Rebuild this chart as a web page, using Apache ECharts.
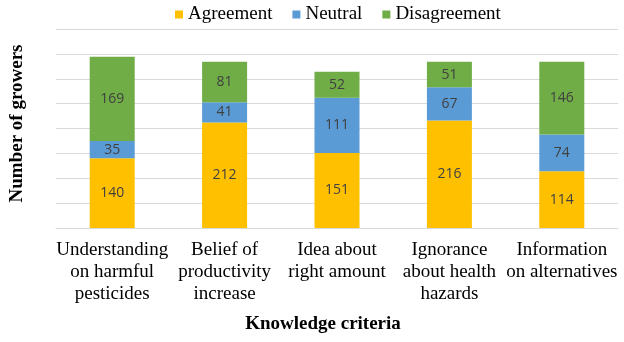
<!DOCTYPE html>
<html>
<head>
<meta charset="utf-8">
<script src="https://cdn.jsdelivr.net/npm/echarts@6/dist/echarts.min.js"></script>
<style>
  html, body { margin: 0; padding: 0; background: #fff; }
  #chart { width: 624px; height: 342px; }
</style>
</head>
<body>
<div id="chart"></div>
<script>
var criteria = [
    'Understanding\non harmful\npesticides',
    'Belief of\nproductivity\nincrease',
    'Idea about\nright amount',
    'Ignorance\nabout health\nhazards',
    'Information\non alternatives'
];
var agreement = [140, 212, 151, 216, 114];
var neutral = [35, 41, 111, 67, 74];
var disagreement = [169, 81, 52, 51, 146];

var chart = echarts.init(document.getElementById('chart'));

var labelStyle = {
    show: true,
    position: 'inside',
    color: '#404040',
    fontFamily: 'Open Sans',
    fontSize: 14
};

function makeSeries(name, data, color) {
    return {
        name: name,
        type: 'bar',
        stack: 'total',
        barWidth: 45,
        data: data,
        itemStyle: { color: color },
        label: labelStyle
    };
}

var option = {
    animation: false,
    textStyle: { fontFamily: 'Liberation Serif' },
    legend: {
        left: 170,
        top: 0,
        itemWidth: 8,
        itemHeight: 8,
        itemGap: 20,
        icon: 'rect',
        textStyle: { fontFamily: 'Liberation Serif', fontSize: 19, color: '#000' }
    },
    grid: { left: 54, right: 6, top: 29, bottom: 114 },
    xAxis: {
        type: 'category',
        data: criteria,
        name: 'Knowledge criteria',
        nameLocation: 'middle',
        nameGap: 87,
        nameTextStyle: {
            fontFamily: 'Liberation Serif', fontSize: 19, fontWeight: 'bold',
            color: '#000', verticalAlign: 'top', padding: [0, 28, 0, 0]
        },
        axisLine: { lineStyle: { color: '#D9D9D9' } },
        axisTick: { show: false },
        axisLabel: {
            interval: 0,
            margin: 11,
            fontFamily: 'Liberation Serif',
            fontSize: 19,
            lineHeight: 22,
            color: '#000'
        }
    },
    yAxis: {
        type: 'value',
        min: 0,
        max: 400,
        interval: 50,
        name: 'Number of growers',
        nameLocation: 'middle',
        nameGap: 29,
        nameTextStyle: {
            fontFamily: 'Liberation Serif', fontSize: 19, fontWeight: 'bold',
            color: '#000', padding: [0, 0, 0, 10]
        },
        axisLabel: { show: false },
        axisLine: { show: false },
        axisTick: { show: false },
        splitLine: { lineStyle: { color: '#D9D9D9' } }
    },
    series: [
        makeSeries('Agreement', agreement, '#FFC000'),
        makeSeries('Neutral', neutral, '#5B9BD5'),
        makeSeries('Disagreement', disagreement, '#70AD47')
    ]
};

chart.setOption(option);
window.addEventListener('resize', chart.resize);
</script>
</body>
</html>
